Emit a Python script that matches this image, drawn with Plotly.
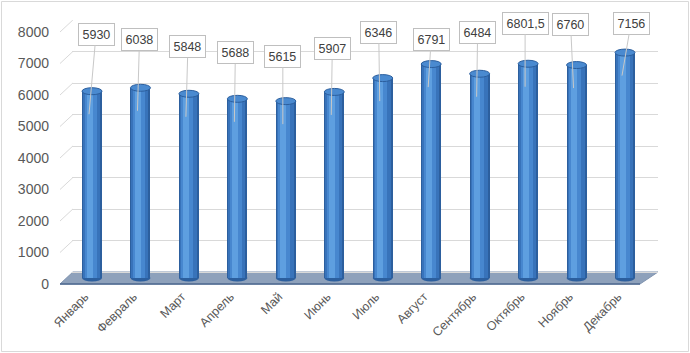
import plotly.graph_objects as go

# ---- data ----
months = ["Январь", "Февраль", "Март", "Апрель", "Май", "Июнь",
          "Июль", "Август", "Сентябрь", "Октябрь", "Ноябрь", "Декабрь"]
values = [5930, 6038, 5848, 5688, 5615, 5907, 6346, 6791, 6484, 6801.5, 6760, 7156]
value_labels = ["5930", "6038", "5848", "5688", "5615", "5907",
                "6346", "6791", "6484", "6801,5", "6760", "7156"]
y_ticks = [0, 1000, 2000, 3000, 4000, 5000, 6000, 7000, 8000]

# ---- layout geometry (pixels) ----
W, H = 690, 353
ML, MR, MT, MB = 72, 32, 20, 67
PW = W - ML - MR
PH = H - MT - MB
SCALE = 0.0315            # px per unit
SPAN = PH / SCALE         # units spanned by plot height
BAR_ZERO = 8              # px above plot bottom where bars start
GRID_ZERO = 14            # px above plot bottom where back wall starts
LABEL_ZERO = 2            # px above plot bottom for tick labels
DEPTH = 12                # perspective depth (px)

# callout label offsets (px) relative to the leader tip
label_offsets = [(7, -80), (2, -71), (2, -70), (1, -69), (0, -68), (1, -66),
                 (-1, -69), (3, -48), (1, -64), (0, -73), (-3, -64), (9, -58)]

px_per_cat = 48.45

fig = go.Figure()

layers = [  # (width px, shift px, color)
    (20, 0, "#2C5F9E"),
    (17, -0.5, "#3873BA"),
    (12, -1.5, "#4787CF"),
    (6, -2.5, "#5E9FE0"),
]
for wpx, spx, col in layers:
    w = wpx / px_per_cat
    fig.add_trace(go.Bar(
        x=months, y=values, yaxis="y",
        width=w, offset=-w / 2 + spx / px_per_cat,
        marker=dict(color=col, line=dict(width=0)),
        hoverinfo="skip", showlegend=False,
    ))

shapes = []
# floor (in bar-axis units)
bx0 = 0.0015
fx0 = (60 - ML) / PW
bx1 = 1.0
fx1 = (640 - ML) / PW
back = (GRID_ZERO - BAR_ZERO) / SCALE
front = (GRID_ZERO - DEPTH - BAR_ZERO) / SCALE
shapes.append(dict(type="path", xref="paper", yref="y",
                   path=f"M {fx0},{front} L {bx0},{back} L {bx1},{back} L {fx1},{front} Z",
                   fillcolor="#8EA1BB", line=dict(color="#7F93AF", width=1),
                   layer="between"))
shapes.append(dict(type="line", xref="paper", yref="y",
                   x0=fx0, x1=fx1, y0=front, y1=front,
                   line=dict(color="#4E6890", width=1.5), layer="between"))
# slanted gridline parts on the left (grid axis units)
for t in y_ticks[1:]:
    shapes.append(dict(type="line", xref="paper", yref="y2",
                       x0=fx0, y0=t - DEPTH / SCALE, x1=bx0, y1=t,
                       line=dict(color="#D9D9D9", width=1), layer="below"))
# cylinder bottoms and tops
for m, v in zip(months, values):
    shapes.append(dict(type="circle", xref="x", yref="y",
                       xsizemode="pixel", ysizemode="pixel",
                       xanchor=m, yanchor=0, x0=-10, x1=10, y0=-3.5, y1=3.5,
                       fillcolor="#2C5F9E", line=dict(width=0), layer="between"))
    shapes.append(dict(type="circle", xref="x", yref="y",
                       xsizemode="pixel", ysizemode="pixel",
                       xanchor=m, yanchor=v, x0=-10, x1=10, y0=-3.5, y1=3.5,
                       fillcolor="#4A8AD0", line=dict(color="#2C5F9E", width=1)))
# chart border
shapes.append(dict(type="rect", xref="paper", yref="paper",
                   x0=(1.5 - ML) / PW, x1=(W - 1.5 - ML) / PW,
                   y0=-(MB - 1.5) / PH, y1=1 + (MT - 1.5) / PH,
                   line=dict(color="#D9D9D9", width=1), fillcolor="rgba(0,0,0,0)"))

annotations = []
for m, v, lab, (ax, ay) in zip(months, values, value_labels, label_offsets):
    annotations.append(dict(
        x=m, y=v, xref="x", yref="y", xshift=-3, yshift=-23,
        text=lab, showarrow=True, ax=ax, ay=ay, axref="pixel", ayref="pixel",
        arrowhead=0, arrowwidth=1, arrowcolor="#C8C8C8", standoff=0,
        bgcolor="white", bordercolor="#BFBFBF", borderwidth=1, borderpad=3.5,
        font=dict(family="Liberation Sans, Arial", size=12.5, color="#404040"),
    ))

fig.update_layout(
    width=W, height=H,
    margin=dict(l=ML, r=MR, t=MT, b=MB, pad=0, autoexpand=False),
    paper_bgcolor="white", plot_bgcolor="white",
    barmode="overlay", bargap=0,
    shapes=shapes, annotations=annotations,
    showlegend=False,
    xaxis=dict(type="category", range=[-0.413, 11.681], automargin=False,
               showgrid=False, showline=False, zeroline=False, ticks="",
               tickangle=-45, ticklabelshift=-7, ticklabelstandoff=0,
               tickfont=dict(family="Liberation Sans, Arial", size=12.5, color="#595959")),
    yaxis=dict(range=[-BAR_ZERO / SCALE, -BAR_ZERO / SCALE + SPAN], automargin=False,
               visible=False, showgrid=False, zeroline=False),
    yaxis2=dict(range=[-GRID_ZERO / SCALE, -GRID_ZERO / SCALE + SPAN], overlaying="y",
                automargin=False, tickvals=y_ticks, showticklabels=False,
                showgrid=True, gridcolor="#D9D9D9", gridwidth=1,
                zeroline=False, showline=False),
    yaxis3=dict(range=[-LABEL_ZERO / SCALE, -LABEL_ZERO / SCALE + SPAN], overlaying="y",
                side="left", anchor="x", tickvals=y_ticks, automargin=False,
                showgrid=False, zeroline=False, showline=False,
                ticklabelstandoff=22,
                tickfont=dict(family="Liberation Sans, Arial", size=14, color="#595959")),
    font=dict(family="Liberation Sans, Arial"),
)
# invisible traces so the overlaid axes are rendered
fig.add_trace(go.Scatter(x=[months[0]], y=[None], yaxis="y2",
                         hoverinfo="skip", showlegend=False))
fig.add_trace(go.Scatter(x=[months[0]], y=[None], yaxis="y3",
                         hoverinfo="skip", showlegend=False))

fig.write_html("out.html", config={"displayModeBar": False},
               post_script="document.body.style.margin='0px';document.body.style.overflow='hidden';")
